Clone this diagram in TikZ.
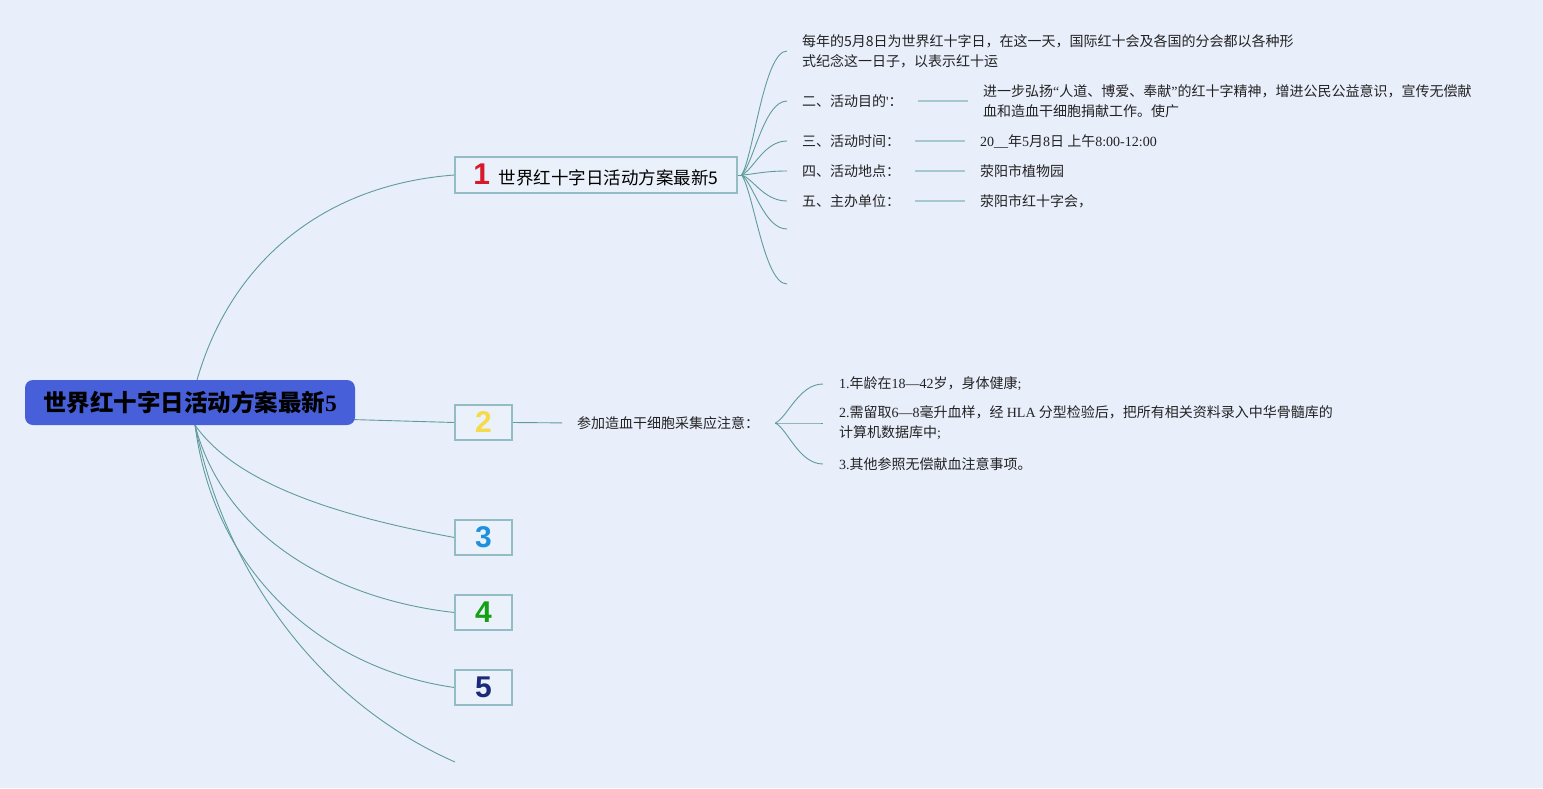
\documentclass[tikz,border=0pt]{standalone}
\usepackage{fontspec}
\setmainfont{Noto Sans CJK SC}
\newfontfamily\lat{Liberation Serif}
\newfontfamily\numf{Liberation Sans}
\usetikzlibrary{backgrounds,calc}
\pgfdeclarelayer{edges}
\pgfsetlayers{background,edges,main}
\definecolor{bgc}{HTML}{E9EEFB}
\definecolor{rootblue}{HTML}{4760DA}
\definecolor{boxfill}{HTML}{EAF1FA}
\definecolor{boxline}{HTML}{94BCC4}
\definecolor{edgec}{HTML}{5F9C9C}
\definecolor{vlc}{HTML}{A6C8CF}
\definecolor{txtc}{HTML}{222222}
\definecolor{cone}{HTML}{D8192C}
\definecolor{ctwo}{HTML}{F5DA4A}
\definecolor{cthree}{HTML}{1E90DC}
\definecolor{cfour}{HTML}{14A014}
\definecolor{cfive}{HTML}{1B2A78}
\tikzset{
  rootnode/.style={fill=rootblue, rounded corners=8pt, minimum width=330pt, minimum height=45pt, inner sep=0pt, text=black, font=\bfseries\fontsize{23.5}{28}\selectfont},
  boxnode/.style={draw=boxline, fill=boxfill, line width=1.2pt, minimum height=35pt, inner sep=0pt},
  badge/.style={boxnode, minimum width=57pt, font=\numf\bfseries\fontsize{30}{30}\selectfont},
  txt/.style={anchor=west, inner sep=0pt, align=left, text=txtc, font=\fontsize{14}{20}\selectfont},
  conn/.style={draw=edgec, line width=0.9pt},
  valline/.style={draw=vlc, line width=1.6pt, shorten <=15pt, shorten >=15pt}
}
\begin{document}
\begin{tikzpicture}[x=1pt,y=-1pt]
\begin{pgfonlayer}{background}
\fill[bgc] (0,0) rectangle (1543,788);
\end{pgfonlayer}
\useasboundingbox (0,0) rectangle (1543,788);

% main nodes
\node[rootnode] (root) at (190,402.5) {世界红十字日活动方案最新{\lat\bfseries 5}};
\node[boxnode, minimum width=282pt, minimum height=36pt] (n1) at (596,175)
  {\textcolor{cone}{\numf\bfseries\fontsize{30}{30}\selectfont 1}\hspace{9pt}{\fontsize{17.5}{20}\selectfont 世界红十字日活动方案最新5}};
\node[badge, text=ctwo] (b2) at (483.5,422.5) {2};
\node[badge, text=cthree] (b3) at (483.5,537.5) {3};
\node[badge, text=cfour] (b4) at (483.5,612.5) {4};
\node[badge, text=cfive] (b5) at (483.5,687.5) {5};
\coordinate (b6) at (455,762);
\coordinate (rtop) at (197,380);
\coordinate (rmid) at (195,415);
\coordinate (rbot) at (195,425);

% branch 1 details
\node[txt] (t1) at (802,51) {每年的5月8日为世界红十字日，在这一天，国际红十会及各国的分会都以各种形\\式纪念这一日子，以表示红十运};
\node[txt] (l2) at (802,101) {二、活动目的{\lat\char"27}：};
\node[txt] (v2) at (983,101) {进一步弘扬{\lat “}人道、博爱、奉献{\lat ”}的红十字精神，增进公民公益意识，宣传无偿献\\血和造血干细胞捐献工作。使广};
\node[txt] (l3) at (802,141) {三、活动时间：};
\node[txt] (v3) at (980,141) {{\lat 20\_\_}年{\lat 5}月{\lat 8}日 上午{\lat 8:00-12:00}};
\node[txt] (l4) at (802,171) {四、活动地点：};
\node[txt] (v4) at (980,171) {荥阳市植物园};
\node[txt] (l5) at (802,201) {五、主办单位：};
\node[txt] (v5) at (980,201) {荥阳市红十字会，};
\coordinate (e6) at (787,229);
\coordinate (e7) at (787,284);

% branch 2 details
\node[txt] (q) at (577,423) {参加造血干细胞采集应注意：};
\node[txt] (i1) at (839,384) {{\lat 1.}年龄在{\lat 18—42}岁，身体健康{\lat ;}};
\node[txt] (i2) at (839,423) {{\lat 2.}需留取{\lat 6—8}毫升血样，经 {\lat HLA} 分型检验后，把所有相关资料录入中华骨髓库的\\计算机数据库中{\lat ;}};
\node[txt] (i3) at (839,464) {{\lat 3.}其他参照无偿献血注意事项。};

\coordinate (e1) at ([xshift=-15pt]t1.west);
\coordinate (e2) at ([xshift=-15pt]l2.west);
\coordinate (e3) at ([xshift=-15pt]l3.west);
\coordinate (e4) at ([xshift=-15pt]l4.west);
\coordinate (e5) at ([xshift=-15pt]l5.west);
\coordinate (hub1) at ([xshift=4pt]n1.east);
\coordinate (hub2) at ([xshift=16pt]q.east);
\coordinate (f1) at ([xshift=-16pt]i1.west);
\coordinate (f2) at ([xshift=-16pt]i2.west);
\coordinate (f3) at ([xshift=-16pt]i3.west);

\begin{pgfonlayer}{edges}
\draw[conn] (rtop) .. controls (230,265) and (320,185) .. (n1.west);
\draw[conn] (rmid) -- (b2.west);
\draw[conn] (rbot) .. controls (240,490) and (360,520) .. (b3.west);
\draw[conn] (rbot) .. controls (225,540) and (340,600) .. (b4.west);
\draw[conn] (rbot) .. controls (215,580) and (330,670) .. (b5.west);
\draw[conn] (rbot) .. controls (225,570) and (315,700) .. (b6);
\foreach \e in {e1,e2,e3,e4,e5,e6,e7}
  \draw[conn] (hub1) .. controls ($(hub1)!0.15!(\e)+(5pt,0)$) and ([xshift=-23pt]\e) .. (\e);
\draw[conn] (n1.east) -- (hub1);
\draw[conn, shorten >=15pt] (b2.east) -- (q.west);
\foreach \f in {f1,f2,f3}
  \draw[conn] (hub2) .. controls ($(hub2)!0.15!(\f)+(5pt,0)$) and ([xshift=-24pt]\f) .. (\f);
\draw[valline] (l2.east) -- (v2.west);
\draw[valline] (l3.east) -- (v3.west);
\draw[valline] (l4.east) -- (v4.west);
\draw[valline] (l5.east) -- (v5.west);
\end{pgfonlayer}
\end{tikzpicture}
\end{document}
